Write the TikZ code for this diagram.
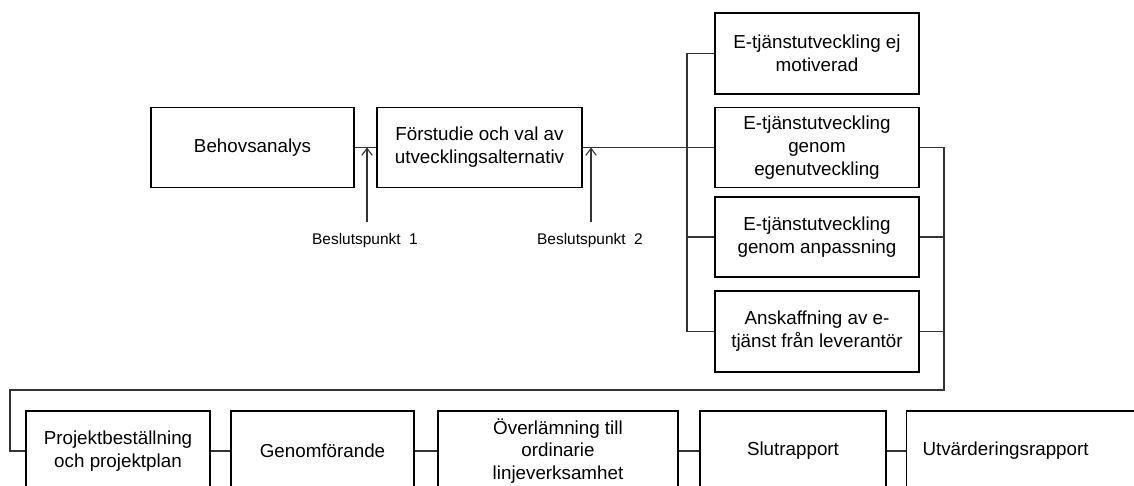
\documentclass[tikz,border=0pt]{standalone}
\usepackage{fontspec}
\setmainfont{Liberation Sans}
\usetikzlibrary{arrows.meta}

\begin{document}
\begin{tikzpicture}[x=0.02cm,y=-0.02cm,
  box/.style={draw,line width=0.6pt,minimum height=1.6cm,align=center,inner sep=2pt,font=\fontsize{10.7}{13}\selectfont},
  conn/.style={line width=0.6pt,black!80},
  lbl/.style={font=\fontsize{8.8}{10}\selectfont}]
% Frame
\useasboundingbox (0,0) rectangle (1134,486);
\clip (0,0) rectangle (1134,486);

% Top row
\node[box,minimum width=4.06cm] (beh) at (252.5,147.5) {Behovsanalys};
\node[box,minimum width=4.1cm] (forst) at (479.5,147.5) {Förstudie och val av\\utvecklingsalternativ};

% Alternatives
\node[box,minimum width=4.08cm,minimum height=1.62cm] (ej) at (817,53.5) {E-tjänstutveckling ej\\motiverad};
\node[box,minimum width=4.08cm] (egen) at (817,147.5) {E-tjänstutveckling\\genom\\egenutveckling};
\node[box,minimum width=4.08cm] (anp) at (817,237) {E-tjänstutveckling\\genom anpassning};
\node[box,minimum width=4.08cm,minimum height=1.62cm] (ansk) at (817,331.5) {Anskaffning av e-\\tjänst från leverantör};

% Bottom row
\node[box,minimum width=3.68cm] (proj) at (118,451) {Projektbeställning\\och projektplan};
\node[box,minimum width=3.66cm] (genf) at (322.5,451) {Genomförande};
\node[box,minimum width=4.8cm] (overl) at (558,451) {Överlämning till\\ordinarie\\linjeverksamhet};
\node[box,minimum width=3.72cm] (slut) at (793,451) {Slutrapport};
\node[box,anchor=west,text width=4.6cm,align=left,inner xsep=0.32cm] (utv) at (906,451) {Utvärderingsrapport};

% Decision points
\node[lbl] (bp1) at (365,241) {Beslutspunkt\ \ 1};
\node[lbl] (bp2) at (590,241) {Beslutspunkt\ \ 2};
\coordinate (t1) at (367,147.5);
\coordinate (t2) at (591,147.5);
\draw[conn,-{Straight Barb[length=4pt,width=6pt]},shorten <=3pt] (bp1.north -| t1) -- (t1);
\draw[conn,-{Straight Barb[length=4pt,width=6pt]},shorten <=3pt] (bp2.north -| t2) -- (t2);

% Connectors
\coordinate (busL) at (687,0);
\coordinate (busR) at (944,0);
\coordinate (loop) at (10,390);
\draw[conn] (beh) -- (forst);
\draw[conn] (forst) -- (egen);
\draw[conn] (ej.west) -- (ej.west -| busL) -- (ansk.west -| busL) -- (ansk.west);
\draw[conn] (anp.west) -- (anp.west -| busL);
\draw[conn] (egen.east) -- (egen.east -| busR) |- (loop) |- (proj.west);
\draw[conn] (anp.east) -- (anp.east -| busR);
\draw[conn] (ansk.east) -- (ansk.east -| busR);
\draw[conn] (proj) -- (genf);
\draw[conn] (genf) -- (overl);
\draw[conn] (overl) -- (slut);
\draw[conn] (slut) -- (utv);
\end{tikzpicture}
\end{document}
